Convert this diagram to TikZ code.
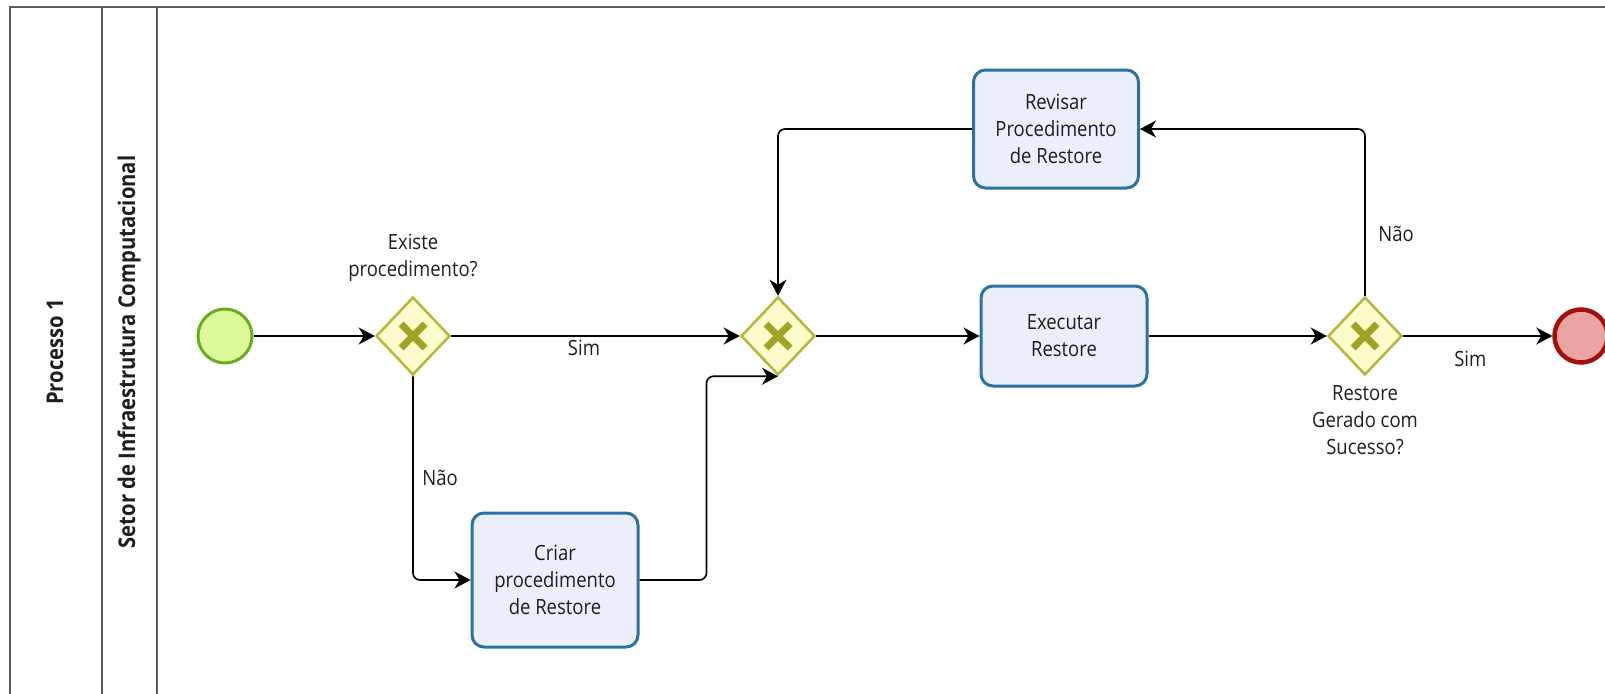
\documentclass[tikz,border=0pt]{standalone}
\usepackage{fontspec}
\setmainfont[FakeStretch=0.88]{Open Sans}
\usetikzlibrary{arrows.meta,positioning,shapes.geometric}

\definecolor{taskline}{HTML}{2A72A5}
\definecolor{taskfill}{HTML}{EAEFFB}
\definecolor{gateline}{HTML}{B6B63A}
\definecolor{gatefill}{HTML}{FDFCCB}
\definecolor{gatemark}{HTML}{A2A227}
\definecolor{startline}{HTML}{66AE1D}
\definecolor{startfill}{HTML}{DDF99C}
\definecolor{endline}{HTML}{A30E0E}
\definecolor{endfill}{HTML}{EBA4A4}
\definecolor{laneline}{HTML}{5C5C5C}
\definecolor{txt}{HTML}{1E1E1E}

\begin{document}
\begin{tikzpicture}[x=1pt, y=-1pt, on grid,
      font=\fontsize{21}{27}\selectfont, text=txt,
      task/.style={draw=taskline, fill=taskfill, line width=3pt, rounded corners=12pt, align=center, minimum width=166pt, inner sep=0pt},
      gateway/.style={diamond, draw=gateline, fill=gatefill, line width=2.5pt, minimum width=74pt, minimum height=78pt, inner sep=0pt,
        path picture={\draw[gatemark, line width=7pt]
          ([shift={(-12pt,-12pt)}]path picture bounding box.center) -- ++(24pt,24pt)
          ([shift={(-12pt,12pt)}]path picture bounding box.center) -- ++(24pt,-24pt);}},
      startev/.style={circle, draw=startline, fill=startfill, line width=3pt, minimum size=54pt, inner sep=0pt},
      endev/.style={circle, draw=endline, fill=endfill, line width=4.5pt, minimum size=53pt, inner sep=0pt},
      flow/.style={-{Stealth[length=16pt, width=17pt, inset=5pt]}, line width=1.6pt, rounded corners=7pt},
      lbl/.style={inner sep=0pt, align=center},
      lane/.style={laneline, line width=2pt},
      lanetitle/.style={rotate=90, font=\fontsize{23}{27}\selectfont\bfseries}
    ]
    \useasboundingbox (0,0) rectangle (1605,693);
    \clip (0,0) rectangle (1605,693);
    % pool and lane
    \draw[lane] (10,7) rectangle (1700,720);
    \draw[lane] (102,7) -- (102,720);
    \draw[lane] (157,7) -- (157,720);
    \node[lanetitle] (pool) at (55,352) {Processo 1};
    \node[lanetitle] (lane) at (129,352) {Setor de Infraestrutura Computacional};
    % events, gateways, tasks
    \node[startev] (start) at (225,336) {};
    \node[gateway, right=188pt of start] (gw1) {};
    \node[gateway, right=365pt of gw1] (gw2) {};
    \node[task, minimum height=100pt, right=286pt of gw2] (exec) {Executar\\Restore};
    \node[gateway, right=301pt of exec] (gw3) {};
    \node[endev, right=216pt of gw3] (end) {};
    \node[task, minimum height=118pt, minimum width=165pt, above=207pt of exec, xshift=-8pt] (revisar) {Revisar\\Procedimento\\de Restore};
    \node[task, minimum height=134pt, below right=244pt and 142pt of gw1] (criar) {Criar\\procedimento\\de Restore};
    \node[lbl, above=78pt of gw1] (q1) {Existe\\procedimento?};
    \node[lbl, below=84pt of gw3] (q3) {Restore\\Gerado com\\Sucesso?};
    % flows
    \draw[flow] (start) -- (gw1);
    \draw[flow] (gw1) -- node[lbl, pos=0.46, yshift=-12pt] {Sim} (gw2);
    \draw[flow] (gw1.south) |- node[lbl, pos=0.25, xshift=27pt] {Não} (criar.west);
    \draw[flow] (criar.east) -- ++(67,0) |- (gw2.south);
    \draw[flow] (gw2) -- (exec);
    \draw[flow] (exec) -- (gw3);
    \draw[flow] (gw3) -- node[lbl, pos=0.45, yshift=-23pt] {Sim} (end);
    \draw[flow] (gw3.north) |- node[lbl, pos=0.185, xshift=31pt] {Não} (revisar.east);
    \draw[flow] (revisar.west) -| (gw2.north);
  \end{tikzpicture}
\end{document}
